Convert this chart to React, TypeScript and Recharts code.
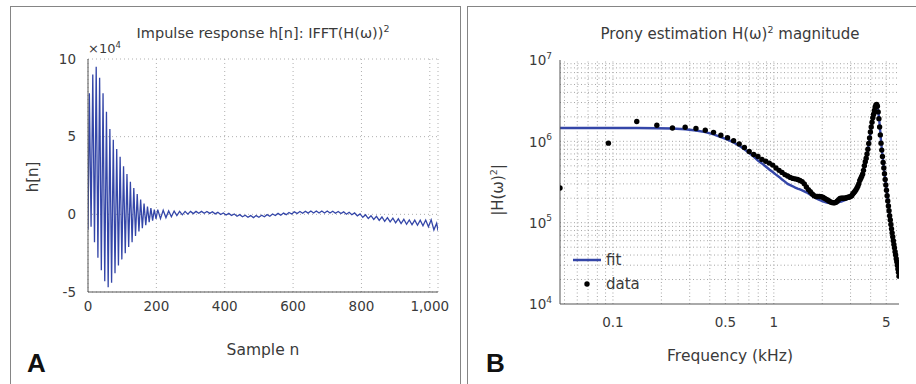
import { LineChart, Line, XAxis, YAxis, CartesianGrid, ComposedChart, Legend, ReferenceLine } from 'recharts';

const FONT = "'DejaVu Sans', Verdana, sans-serif";
const INK = '#3a3a3a';
const BLUE = '#3446a8';
const AXIS = '#555';
const GRID = '#a6a6a6';

// ---- panel A: impulse response (h in units of 1e4) ----
const headN = [0, 4, 9, 14, 19, 24, 29, 34, 39, 44, 49, 54, 59, 64, 69, 74, 79, 84, 89, 94, 99,
  104, 109, 114, 119, 124, 129, 134, 139, 144, 149, 154, 159, 164, 169, 174, 179, 184, 189, 194, 199];
const headH = [-1.0, 7.8, -0.8, 9.0, -1.8, 9.5, -2.8, 8.8, -3.6, 7.8, -4.3, 6.6, -4.7, 5.5, -4.4, 4.8, -3.8, 4.2, -3.3, 3.7, -2.9,
  3.1, -2.5, 2.6, -2.1, 2.1, -1.8, 1.7, -1.4, 1.3, -1.1, 0.95, -0.9, 0.7, -0.7, 0.5, -0.5, 0.4, -0.4, 0.3, -0.3];

const tailN = [204, 212, 220, 228, 236, 244, 252, 260, 268, 276, 284, 292, 300, 308, 316, 324, 332, 340, 348, 356,
  364, 372, 380, 388, 396, 404, 412, 420, 428, 436, 444, 452, 460, 468, 476, 484, 492, 500, 508, 516,
  524, 532, 540, 548, 556, 564, 572, 580, 588, 596, 604, 612, 620, 628, 636, 644, 652, 660, 668, 676,
  684, 692, 700, 708, 716, 724, 732, 740, 748, 756, 764, 772, 780, 788, 796, 804, 812, 820, 828, 836,
  844, 852, 860, 868, 876, 884, 892, 900, 908, 916, 924, 932, 940, 948, 956, 964, 972, 980, 988, 996,
  1004, 1012, 1020, 1024];
const tailH = [0.3, -0.28, 0.26, -0.21, 0.22, -0.15, 0.21, -0.08, 0.19, -0.03,
  0.19, 0.01, 0.19, 0.05, 0.19, 0.07, 0.19, 0.07, 0.18, 0.06,
  0.17, 0.03, 0.13, -0.01, 0.09, -0.04, 0.06, -0.08, 0.02, -0.12,
  -0.02, -0.16, -0.06, -0.19, -0.08, -0.21, -0.08, -0.19, -0.06, -0.16,
  -0.02, -0.12, 0.02, -0.08, 0.06, -0.06, 0.08, -0.02, 0.12, 0.02,
  0.16, 0.05, 0.18, 0.07, 0.2, 0.08, 0.21, 0.09, 0.21, 0.09,
  0.21, 0.09, 0.21, 0.09, 0.2, 0.07, 0.18, 0.05, 0.16, 0.01,
  0.13, -0.03, 0.09, -0.1, 0.03, -0.19, -0.03, -0.27, -0.09, -0.33,
  -0.13, -0.39, -0.17, -0.45, -0.21, -0.49, -0.25, -0.55, -0.29, -0.59,
  -0.32, -0.64, -0.36, -0.67, -0.37, -0.7, -0.38, -0.74, -0.37, -0.8,
  -0.35, -1.0, -0.57, -1.05];

const sampleTicks = [0, 200, 400, 600, 800, 1000];
const hTicks = [-5, 0, 5, 10];

// ---- panel B: Prony magnitude (values in units of 1e5), FFT bins of 12 kHz / 256 ----
const binKHz = 12 / 256;
const fitMag = [
  14.6, 14.6, 14.6, 14.5, 14.4, 14.1, 13.6, 13.0, 12.2, 11.3,
  10.5, 9.7, 8.8, 8.0, 7.2, 6.5, 5.8, 5.35, 4.9, 4.5,
  4.2, 3.9, 3.65, 3.4, 3.2, 3.0, 2.9, 2.8, 2.7, 2.62,
  2.56, 2.5, 2.43, 2.36, 2.28, 2.2, 2.13, 2.06, 2.0, 1.95,
  1.9, 1.86, 1.83, 1.8, 1.78, 1.76, 1.75, 1.74, 1.74, 1.74,
  1.75, 1.76, 1.77, 1.78, 1.8, 1.82, 1.84, 1.86, 1.89, 1.92,
  1.95, 1.99, 2.04, 2.1, 2.17, 2.25, 2.33, 2.42, 2.52, 2.65,
  2.8, 3.0, 3.25, 3.45, 3.65, 3.9, 4.3, 4.9, 5.5, 6.1,
  6.9, 7.9, 9.2, 10.7, 12.6, 14.6, 16.8, 19, 21, 23.5,
  25.5, 27, 27.5, 26.5, 24, 20, 16, 12.8, 10, 8.2,
  6.8, 5.7, 4.8, 4.1, 3.5, 3.0, 2.6, 2.25, 1.95, 1.68,
  1.46, 1.27, 1.11, 0.97, 0.86, 0.76, 0.68, 0.6, 0.54, 0.49,
  0.44, 0.4, 0.36, 0.33, 0.3, 0.27, 0.245, 0.22];
const dataMag = [
  2.67, 9.5, 17.5, 15.8, 14.6, 14.9, 14.4, 13.7, 12.9, 11.9,
  11.1, 10.2, 9.3, 8.4, 7.5, 6.9, 6.5, 6.0, 5.7, 5.4,
  5.1, 4.7, 4.4, 4.15, 3.9, 3.75, 3.6, 3.5, 3.45, 3.4,
  3.3, 3.2, 3.0, 2.75, 2.55, 2.4, 2.25, 2.15, 2.1, 2.1,
  2.1, 2.08, 2.05, 2.0, 1.95, 1.9, 1.85, 1.8, 1.77, 1.76,
  1.76, 1.78, 1.85, 1.92, 1.98, 2.0, 2.0, 2.0, 2.0, 2.02,
  2.04, 2.05, 2.07, 2.1, 2.15, 2.25, 2.33, 2.42, 2.52, 2.65,
  2.8, 3.0, 3.3, 3.5, 3.7, 3.95, 4.4, 5.0, 5.6, 6.2,
  7.0, 8.0, 9.4, 11, 13, 15, 17.2, 19.5, 21.5, 24,
  26.5, 28, 28.5, 27, 23, 19, 15, 12, 9.5, 7.8,
  6.5, 5.5, 4.7, 4.0, 3.4, 2.9, 2.5, 2.15, 1.85, 1.6,
  1.4, 1.22, 1.08, 0.95, 0.84, 0.75, 0.67, 0.6, 0.54, 0.49,
  0.44, 0.4, 0.36, 0.33, 0.3, 0.27, 0.245, 0.22];

const freqTicks = [0.1, 0.5, 1, 5];
const magTicks = [1e4, 1e5, 1e6, 1e7];
const freqGrid = [0.05, 0.06, 0.07, 0.08, 0.09, 0.1, 0.2, 0.3, 0.4, 0.5, 0.6, 0.7, 0.8, 0.9, 1, 2, 3, 4, 5];
const magGrid = [2e4, 3e4, 4e4, 5e4, 6e4, 7e4, 8e4, 9e4, 1e5, 2e5, 3e5, 4e5, 5e5, 6e5, 7e5, 8e5, 9e5,
  1e6, 2e6, 3e6, 4e6, 5e6, 6e6, 7e6, 8e6, 9e6];

const impulse = [...headN, ...tailN].map((n, i) => ({ n, h: [...headH, ...tailH][i] }));
const spectrum = fitMag.map((v, i) => ({ f: (i + 1) * binKHz, fit: v * 1e5, data: dataMag[i] * 1e5 }));

const tickStyle = { fill: INK, fontSize: 13.5, fontFamily: FONT };

const PowTick = ({ x, y, payload }: any) => {
  const exp = Math.round(Math.log10(payload.value));
  return (
    <text x={x} y={y} textAnchor="end" fill={INK} fontSize={13.5} fontFamily={FONT}>
      <tspan dy="0.4em">10</tspan>
      <tspan dy="-0.75em" fontSize={9}>{exp}</tspan>
    </text>
  );
};

const txt = (style: React.CSSProperties): React.CSSProperties => ({
  position: 'absolute', fontFamily: FONT, color: INK, whiteSpace: 'nowrap', lineHeight: 1, ...style,
});

export default function App() {
  return (
    <div style={{ position: 'absolute', left: 0, top: 0, width: 916, height: 384, background: '#fff', overflow: 'hidden' }}>
      <div style={{ position: 'absolute', left: 10, top: 6, width: 449, height: 400, border: '1.5px solid #858585' }} />
      <div style={{ position: 'absolute', left: 467, top: 6, width: 460, height: 400, border: '1.5px solid #858585' }} />

      <div style={{ position: 'absolute', left: 0, top: 0 }}>
        <LineChart width={460} height={384} data={impulse} margin={{ top: 59, right: 22, bottom: 62, left: 40 }}>
          <CartesianGrid stroke="#b0b0b0" strokeDasharray="1 3" />
          <XAxis dataKey="n" type="number" domain={[0, 1024]} ticks={sampleTicks} allowDataOverflow
            tickFormatter={(v: number) => v.toLocaleString('en-US')} tick={tickStyle} tickLine={false}
            stroke={AXIS} height={30} tickMargin={3} />
          <XAxis xAxisId="top" orientation="top" dataKey="n" type="number" domain={[0, 1024]} ticks={sampleTicks}
            tick={false} tickLine={false} height={0} stroke={AXIS} />
          <YAxis type="number" domain={[-5, 10]} ticks={hTicks} allowDataOverflow tick={tickStyle} tickLine={false}
            stroke={AXIS} width={48} tickMargin={6} />
          <YAxis yAxisId="right" orientation="right" type="number" domain={[-5, 10]} ticks={hTicks}
            tick={false} tickLine={false} width={0} stroke={AXIS} />
          <Line dataKey="h" stroke={BLUE} strokeWidth={1.3} dot={false} isAnimationActive={false} />
        </LineChart>
      </div>

      <div style={txt({ left: 0, width: 526, top: 24, textAlign: 'center', fontSize: 14.5 })}>
        Impulse response h[n]: IFFT(H(ω))<sup style={{ fontSize: 9.5 }}>2</sup>
      </div>
      <div style={txt({ left: 88, top: 41, fontSize: 13 })}>
        ×10<sup style={{ fontSize: 8.5 }}>4</sup>
      </div>
      <div style={txt({ left: 33, top: 177, fontSize: 15, transform: 'translate(-50%, -50%) rotate(-90deg)' })}>h[n]</div>
      <div style={txt({ left: 0, width: 526, top: 343, textAlign: 'center', fontSize: 15.5 })}>Sample n</div>
      <div style={txt({ left: 27, top: 350, fontSize: 26, fontWeight: 'bold', fontFamily: "'Liberation Sans', Arial, sans-serif", color: '#111' })}>A</div>

      <div style={{ position: 'absolute', left: 456, top: 0 }}>
        <ComposedChart width={460} height={384} data={spectrum} margin={{ top: 60, right: 17, bottom: 50, left: 50 }}>
          {freqGrid.map((v) => (
            <ReferenceLine key={'fx' + v} x={v} stroke={GRID} strokeDasharray="1 2.5" ifOverflow="hidden" />
          ))}
          {magGrid.map((v) => (
            <ReferenceLine key={'my' + v} y={v} stroke={GRID} strokeDasharray="1 2.5" ifOverflow="hidden" />
          ))}
          <XAxis dataKey="f" type="number" scale="log" domain={[binKHz, 6]} ticks={freqTicks} allowDataOverflow
            tick={tickStyle} tickLine={false} stroke={AXIS} height={30} tickMargin={7} />
          <XAxis xAxisId="top" orientation="top" dataKey="f" type="number" scale="log" domain={[binKHz, 6]}
            ticks={freqTicks} tick={false} tickLine={false} height={0} stroke={AXIS} />
          <YAxis type="number" scale="log" domain={[1e4, 1e7]} ticks={magTicks} allowDataOverflow
            tick={<PowTick />} tickLine={false} stroke={AXIS} width={54} />
          <YAxis yAxisId="right" orientation="right" type="number" scale="log" domain={[1e4, 1e7]} ticks={magTicks}
            tick={false} tickLine={false} width={0} stroke={AXIS} />
          <Legend layout="vertical" align="center" verticalAlign="middle"
            wrapperStyle={{ left: 117, top: 248, width: 'auto', height: 'auto' }}
            content={() => (
              <div style={{ fontFamily: FONT, fontSize: 15, color: INK }}>
                <div style={{ display: 'flex', alignItems: 'center', height: 24 }}>
                  <svg width={30} height={10}><line x1={0} y1={5} x2={28} y2={5} stroke={BLUE} strokeWidth={2.5} /></svg>
                  <span style={{ marginLeft: 3 }}>fit</span>
                </div>
                <div style={{ display: 'flex', alignItems: 'center', height: 24 }}>
                  <svg width={30} height={10}><circle cx={14} cy={5} r={2.7} fill="#000" /></svg>
                  <span style={{ marginLeft: 3 }}>data</span>
                </div>
              </div>
            )} />
          <Line dataKey="fit" name="fit" stroke={BLUE} strokeWidth={2.4} dot={false} isAnimationActive={false} />
          <Line dataKey="data" name="data" stroke="none" dot={{ r: 2.7, fill: '#000', stroke: 'none' }}
            activeDot={false} isAnimationActive={false} />
        </ComposedChart>
      </div>

      <div style={txt({ left: 456 + 104, width: 340, top: 25, textAlign: 'center', fontSize: 15 })}>
        Prony estimation H(ω)<sup style={{ fontSize: 9.5 }}>2</sup> magnitude
      </div>
      <div style={txt({ left: 497, top: 190, fontSize: 15, transform: 'translate(-50%, -50%) rotate(-90deg)' })}>
        |H(ω)<sup style={{ fontSize: 9.5 }}>2</sup>|
      </div>
      <div style={txt({ left: 456 + 104, width: 340, top: 349, textAlign: 'center', fontSize: 15.5 })}>Frequency (kHz)</div>
      <div style={txt({ left: 486, top: 350, fontSize: 26, fontWeight: 'bold', fontFamily: "'Liberation Sans', Arial, sans-serif", color: '#111' })}>B</div>
    </div>
  );
}
